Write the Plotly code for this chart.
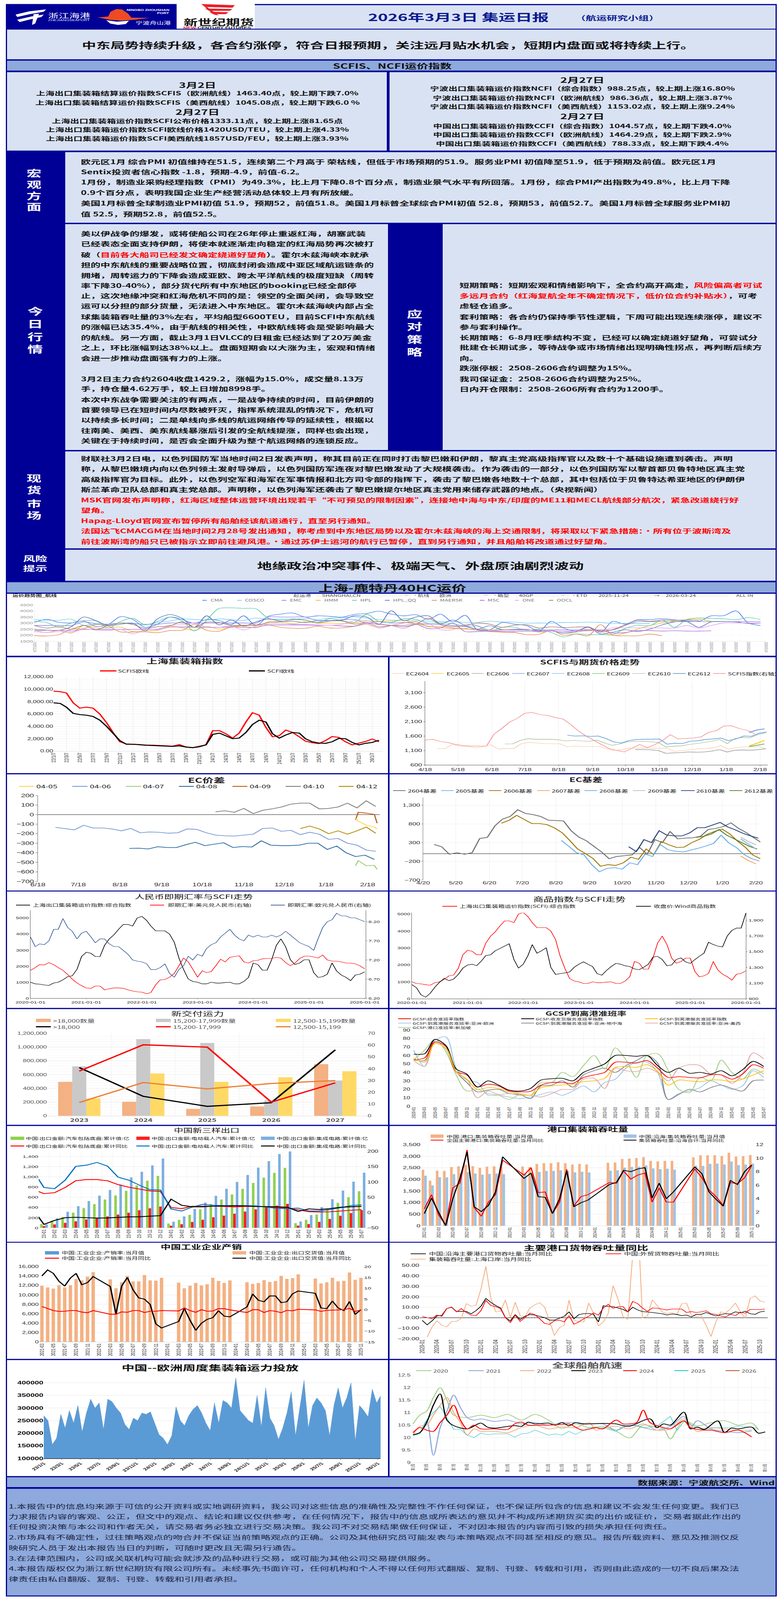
import pandas as pd
import plotly.graph_objects as go

W, H = 2004, 6802
CJK = "Noto Sans CJK SC"
LAT = "Liberation Sans"
NAVY = "#000096"
PALE = "#d9e2f3"
BAND = "#8ea9db"
RED = "#ff0000"

# ---------- freight chart (2-day sampled) ----------
FR_TICKS = ["20251124","20251126","20251128","20251130","20251202","20251204","20251206","20251208","20251210","20251212","20251214","20251216","20251218","20251220","20251222","20251224","20251226","20251228","20251230","20260101","20260103","20260105","20260107","20260109","20260111","20260113","20260115","20260117","20260119","20260121","20260123","20260125","20260127","20260129","20260131","20260202","20260204","20260206","20260208","20260210","20260212","20260214","20260216","20260218","20260220","20260222","20260224","20260226","20260228","20260302","20260304","20260306","20260308","20260310","20260312","20260314","20260316","20260318","20260320","20260324"]
FR_CMA = [3050,3310,3060,3010,3170,2720,2880,3530,3300,2650,2900,3500,3300,2980,3300,3210,2880,3600,2790,3560,3740,3830,3500,3600,3560,3490,3720,3790,3985,3740,3600,3690,3300,3740,3100,3640,2450,2450,3040,2910,2790,2340,3140,2590,2340,2690,2240,3140,2910,3270,3280,3370,3270,3170,3140,3600,3610,4010,3010,2800]
FR_COSCO = [3290,3230,3240,3320,2820,2930,2910,3010,2990,2850,3045,3170,3340,3300,3240,3350,3280,3220,3420,3320,3340,3320,3370,3300,3400,3430,3520,3400,3300,3240,3220,3190,3160,3140,3130,3060,3060,3160,3090,3090,2990,3010,2990,3050,3050,3080,3050,2980,2970,2970,2970,None,None,None,None,None,None,None,None,None]
FR_EMC = [2800,2800,2800,2800,3100,2950,2900,3000,2950,2900,2900,3010,3010,3010,3010,3010,3010,3010,3010,3500,3500,3500,3500,3200,3200,3280,3300,3000,3130,3000,3050,2950,2900,2900,2800,2700,2480,2430,2430,2430,2430,2430,2430,2430,2430,2430,2430,2430,2800,3120,3120,3120,3120,3120,3120,3120,3120,3120,3120,3120]
FR_HMM = [2400,2230,2400,2170,2800,2580,2600,2670,2300,2350,2400,2750,2600,2400,2720,2500,2650,2750,2620,3100,3100,2950,3100,3000,3000,2950,3000,3170,3150,3150,3220,2950,2750,2600,2550,2500,2500,2450,2450,2500,2500,2250,2350,2250,2250,2420,2300,1980,2170,2500,2800,3000,3200,3270,3310,3150,None,None,None,None]
FR_HPL = [3150,3040,2660,3000,3200,3180,2600,3130,3400,2860,3130,3500,3170,2350,3250,4200,4260,4220,4180,3400,3250,3350,3250,3050,3350,3200,3050,3720,3130,3050,3350,3300,3000,3020,2950,2750,2750,2300,2650,2650,2400,2500,2220,1850,2100,2050,2050,2050,2550,2820,2780,3260,2650,3300,3420,3380,3360,3280,3450,3300]
FR_HPLQQ = [2480,2420,2400,2700,3500,3200,2800,2900,3000,2350,3350,3700,3400,2650,3600,2850,3250,2750,3100,3350,3150,3150,3050,3200,3200,3250,3600,3500,2900,4020,3200,3500,3600,2950,3250,2800,2500,2780,2450,2450,2450,2350,2350,2150,2280,2650,2100,2250,2450,2300,2500,2850,3100,3120,2650,3100,3120,3100,2960,3000]
FR_MAERSK = [1970,1930,2050,2480,2550,2880,2750,2270,2260,2270,2200,2380,2400,2900,2400,2330,2700,2800,2900,2850,2650,2570,2570,2730,2590,2600,2730,2900,2600,2800,3000,3100,2700,2700,2600,2550,2400,2300,2250,2220,2040,2070,2400,2000,2100,1950,2870,2000,1950,1950,2090,1950,None,None,None,None,None,None,None,None]
FR_MSC = [2380,2400,2400,2350,2470,2470,2470,2470,2490,2480,2470,2660,2680,2660,2650,2650,2680,2640,2650,2840,2840,2850,2840,2800,2830,2760,2750,3000,2700,2800,2800,2900,2550,2600,3000,2300,2300,2350,2300,2300,2320,2300,2350,2280,2350,2370,2400,2180,2220,2380,2380,2340,2370,2340,2340,2360,None,None,None,None]
FR_ONE = [2290,2230,2290,2230,2500,2420,2380,2480,2100,2450,2500,2820,2870,3000,2650,2650,2750,2430,2760,2950,2950,2900,2900,2850,2820,2900,3200,3200,2950,2800,2550,2950,2950,2450,2450,2900,2800,2400,2400,2500,2480,2300,2380,2250,2340,2500,2300,2600,2600,2600,2600,2600,2590,2800,2580,2800,3010,3010,3010,3010]
FR_OOCL = [2800,2590,2700,2500,2800,2460,2800,3000,2880,2550,2700,2770,3100,2650,3080,3050,2800,2830,2800,3050,3100,3280,3240,3010,3170,3170,2910,3040,2880,2820,2690,2900,3400,2860,2720,2790,2990,2910,2650,2820,2870,2590,2690,2630,2670,2670,2320,2460,2850,3230,3140,3250,3230,3250,3200,None,None,None,None,None]

# ---------- Shanghai container index ----------
A_SCFIS = [9700,9600,9400,7800,6950,7100,6950,6000,4600,3000,1500,1150,1100,1000,950,950,900,850,800,1050,650,550,800,1000,3300,3300,2800,2100,2900,4700,6200,5800,3800,2300,2500,3400,3000,2300,1600,1350,1200,1700,2350,2200,1500,1000,1300,1550,1950,1500]
A_SCFI = [7800,7700,7100,6100,5900,5800,5600,5000,4000,2900,1700,1100,1100,1050,950,900,850,800,750,850,650,550,700,1000,2700,2900,2450,2000,2100,3000,4300,5000,4700,2800,2100,2600,3000,2900,2000,1500,1300,1250,1500,2050,2000,1400,1000,1250,1400,1750]

# ---------- SCFIS & futures (weekly) ----------
B_SCFIS = [1460,1490,1410,1375,1310,1270,1254,1254,1254,1670,1860,2080,2210,2390,2415,2340,2315,2240,2190,2000,1780,1600,1460,1310,1170,1105,1050,1180,1310,1200,1310,1450,1650,1500,1520,1530,1570,1730,1790,1950,1955,1860,1800,1680]
B_2604 = [1170,1165,1310,1250,1240,1190,1225,1300,1150,1170,1170,1340,1380,1360,1340,1335,1335,1230,1260,1240,1240,1240,1170,1100,1130,1180,1180,1190,1180,1180,1170,1070,1100,1120,1160,1170,1190,1270,1150,1200,1230,1220,1240,1150]
B_2606 = [1325,1330,1450,1510,1490,1490,1490,1470,1430,1450,1430,1420,1460,1360,1280,1330,1400,1410,1420,1400,1380,1220,1250,1260,1310,1340,1380,1420,1480,1340,1520,1550,1540,1650,1710]
B_2608 = [1630,1600,1610,1590,1600,1520,1400,1360,1440,1480,1490,1490,1500,1320,1350,1340,1420,1440,1480,1500,1530,1440,1500,1600,1590,1700,1740]
B_2610 = [1130,1135,1125,1100,1000,1020,1030,1050,1040,1050,1080,1130,1050,1110,1120,1110,1130,1160]
B_2607 = [1725,1810,1850]
B_2605 = [1260,1350,1450]
B_2609 = [1240,1280,1330]

# ---------- EC spreads (weekly) ----------
C_0406 = [-134,-146,-160,-112,-140,-140,-150,-170,-145,-190,-182,-185,-195,-190,-150,-155,-190,-215,-222,-225,-215,-205,-145,-140,-175,-165,-210,-185,-205,-260,-250,-300,-320,-372,-385]
C_0408 = [-354,-352,-360,-337,-345,-345,-315,-290,-325,-310,-295,-345,-335,-340,-275,-320,-325,-325,-320,-300,-300,-365,-330,-400,-440,-425,-470]
C_0410 = [30,40,25,65,10,45,60,80,110,120,120,60,65,80,120,70,145,85]
C_0412 = [-146,-120,-150,-200,-170,-205,-170,-130,-195]
C_SHORT_DATES = ["2026-02-09","2026-02-11","2026-02-17","2026-02-23","2026-02-25"]
C_0409 = [-55,25,15,2,-90]
C_0405 = [-40,-70,-110,-130,-150]
C_0407 = [-536,-482,-536,-532,-574]

# ---------- EC basis (weekly) ----------
D_2604 = [250,190,-10,30,-10,30,410,440,750,930,1000,1180,1080,1050,1000,900,890,880,620,450,350,200,50,-130,-70,-50,-30,170,-10,380,300,600,400,420,430,470,650,680,730,830,680,570,430,300,260]
D_2606 = [820,900,1030,920,810,810,780,690,560,350,130,10,-120,-330,-290,-310,-240,-90,-150,130,-20,330,240,170,180,300,390,520,600,660,530,340,180,-30,-130]
D_2608 = [360,200,30,-30,-290,-480,-390,-370,-410,-240,-290,-10,-70,250,110,70,50,100,150,210,280,500,290,170,-20,-130,-190]
D_2610 = [190,60,380,300,620,500,480,480,560,700,700,770,840,720,640,550,480,420]
D_2612 = [440,470,530,650,500,400,300,200,130]
D_2605 = [400,260,130]
D_2607 = [-60,-180,-270]
D_2609 = [445,330,240]

# ---------- FX & commodity (monthly) ----------
SCFI_COMP = [1000,900,880,830,800,950,1000,1150,1350,1400,1800,2600,2870,2800,2600,2600,3300,3700,3950,4300,4600,4600,4500,5000,5100,4850,4500,4200,4200,4200,4000,3500,2500,1800,1200,1050,1000,900,900,1000,950,950,980,1000,900,900,1050,1300,2200,2100,1750,1750,2400,3300,3700,3200,2400,2100,2200,2400,2400,1600,1300,1350,1500,2200,1700,1450,1300,1100,1450,1500,1650]
USD_CNY = [6.93,7.0,7.08,7.07,7.13,7.08,7.0,6.93,6.82,6.7,6.6,6.53,6.47,6.46,6.52,6.52,6.42,6.45,6.47,6.47,6.46,6.42,6.39,6.37,6.36,6.32,6.35,6.55,6.68,6.69,6.75,6.85,7.05,7.25,7.15,6.96,6.75,6.92,6.87,6.9,7.05,7.22,7.15,7.27,7.29,7.31,7.15,7.12,7.18,7.19,7.23,7.24,7.24,7.27,7.25,7.13,7.05,7.12,7.24,7.30,7.3,7.28,7.25,7.33,7.2,7.17,7.17,7.15,7.12,7.12,7.1,7.05,6.97]
EUR_CNY = [7.80,7.55,7.62,7.60,7.70,8.0,8.0,8.28,8.05,7.95,7.75,7.9,7.95,7.8,7.65,7.75,7.75,7.62,7.55,7.55,7.45,7.35,7.2,7.17,7.15,7.1,6.95,6.95,7.0,7.1,6.85,6.75,6.95,7.05,7.3,7.2,7.35,7.3,7.5,7.6,7.65,7.8,7.9,8.0,7.85,7.75,7.7,7.85,7.8,7.85,7.8,7.8,7.85,7.8,7.85,7.95,7.85,7.75,7.65,7.6,7.55,7.45,7.75,8.05,8.2,8.25,8.42,8.35,8.35,8.3,8.3,8.25,8.2]
WIND_CMD = [1080,1040,950,920,970,1050,1110,1160,1130,1150,1210,1290,1330,1340,1320,1380,1450,1460,1510,1540,1570,1600,1400,1290,1340,1450,1590,1480,1510,1550,1300,1210,1220,1230,1240,1300,1340,1370,1340,1310,1220,1200,1260,1310,1350,1340,1320,1310,1280,1270,1300,1340,1430,1440,1400,1320,1330,1400,1420,1370,1350,1400,1440,1480,1620,1590,1570,1560,1700,1770,1800,1800,1990]

# ---------- new deliveries ----------
G_YEARS = ["2023","2024","2025","2026","2027"]
G_Q18 = [495000,205000,102000,137000,752000]
G_Q15 = [720000,1115000,1060000,225000,513000]
G_Q12 = [255000,617000,495000,562000,650000]
G_L18 = [41,16.6,8.1,11.2,56]
G_L15 = [38,60.3,58.3,11.7,28]
G_L12 = [11.4,28.3,22.9,27.5,30]

# ---------- GCSP on-time (bimonthly) ----------
H_TICKS = ["2020-01","2020-03","2020-05","2020-07","2020-09","2020-11","2021-01","2021-03","2021-05","2021-07","2021-09","2021-11","2022-01","2022-03","2022-05","2022-07","2022-09","2022-11","2023-01","2023-03","2023-05","2023-07","2023-09","2023-11","2024-01","2024-03","2024-05","2024-07","2024-09","2024-11","2025-01","2025-03","2025-05","2025-07"]
H_ALL = [55,57,76,71,41,37,23,26,24,18,17,17.6,25,28,28,27,34,37,40,52,52,51,54,45,34,35,34,33.6,37,37,32,38,49,45]
H_GATE = [61.6,62,79,72,44,38,22.6,30,25,19,18,21,31,32.5,33,30,40,45,50,60,60,59,60,48,40,45,39,40,38,42,36,43,53,47]
H_SVC = [57,52,74,69,41,32,20,22,21,17,15,13,22,24,25,26,29,30,33,46,47,46,49,41,25,31,30,29,31,31,29,32,37,42]
H_EU = [66,47,78,82,45,31,28,13,13,11,9,11,14,17,13,18,24,17,28,32,45,52,52,40,8,15,18,22,30,25,20,24,42,34]
H_MED = [55,54,79,72,41,28,17,19,20,15,14,9,24,25,30,22.6,37,42,45,40,48,54,60,51,8,14,20,17,22,25,21,18,30,31]
H_USW = [54,47,75,68,40,32,10,18,14,15,13,13,11,15,20,20,32,33,21,45,42,41,45,40,30,45,49,48,38,37,27,38,63,56]
H_SG = [55,66,79,65,37,18,20,15,13,8,14,13,28,28,40,35,48,60,44,69,55,34,60,62,42,20,16,34,30,54.5,40,32,44,38]

# ---------- new three exports ----------
I_TICKS = ["23-01","23-02","23-03","23-04","23-05","23-06","23-07","23-08","23-09","23-10","23-11","23-12","24-01","24-02","24-03","24-04","24-05","24-06","24-07","24-08","24-09","24-10","24-11","24-12","25-01","25-02","25-03","25-04","25-05","25-06","25-07"]
I_AUTO = [75,140,215,298,388,465,555,635,725,830,925,1018,85,158,255,362,465,555,655,765,880,983,1078,1175,92,160,260,370,490,600,718]
I_EV = [35,68,98,128,165,195,225,260,298,345,383,418,42,72,115,160,208,240,278,320,362,400,435,470,45,75,118,175,238,290,347]
I_IC = [70,188,315,425,525,632,743,850,987,1098,1222,1358,122,225,370,497,628,765,900,1035,1180,1307,1447,1500,125,252,408,562,730,905,1082]
I_AUTO_YOY = [75,62,65,82,104,108,108,104,91.5,83,77,71,69,16.6,13,20.5,21,21,20,18.7,20,20,19,16.6,15,9,3,2,2.5,5,7.7,9.5]
I_EV_YOY = [135,82,78,106,151,155,164,152,116,106,90,75,73.6,12,5,18,27,24,23,23,22.5,22,18,13.6,13,14.6,5.6,5,10,16,23,25.6]
I_IC_YOY = [8,-38.5,-25.6,-16.7,-15.4,-17,-18,-17.4,-16,-14,-13.6,-11.5,-10,44,24,19,19,21,22,22.5,22,20,19.7,19,17.4,3.8,12,10,13,17.4,19,20.5]

# ---------- port throughput ----------
J_TICKS = ["2022-01","2022-03","2022-05","2022-07","2022-09","2022-11","2023-01","2023-03","2023-05","2023-07","2023-09","2023-11","2024-01","2024-03","2024-05","2024-07","2024-09","2024-11","2025-01","2025-03","2025-05","2025-07","2025-09","2025-11"]
J_CN = [2418,1943,2376,2366,2536,2562,2634,2572,2495,2546,2562,2530,None,None,2557,2530,2665,2700,2700,2742,2700,2640,2670,2650,None,None,2716,2727,2880,2900,2920,2960,2800,2780,2800,2800,None,None,2950,3040,3040,3040,3010,3150,2985,3000,3050]
J_CO = [2160,1737,2098,2087,2227,2278,2314,2253,2200,2237,2253,2227,None,None,2263,2200,2325,2366,2366,2392,2366,2304,2330,2300,None,None,2380,2390,2510,2540,2550,2600,2470,2440,2460,2420,None,None,2590,2580,2670,2680,2640,2770,2620,2640,2680]
J_CN_YOY = [2.5,4.6,1.6,0.1,5.6,6.3,11.2,2.7,1.4,3.5,4.6,9.7,None,None,7.5,8.6,4.9,5,1.8,3.5,8.35,2.9,4.3,4.6,None,None,6.4,6.3,8.1,6.9,7.5,7.8,3.5,5.6,3.5,3.5,None,None,8.4,7.1,5.3,4.3,3,6.4,6.2,7.1,8.9]
J_CO_YOY = [1.8,4.1,2,0,4,7,10.9,2.8,2.1,3,5,10.2,None,None,7,7.8,4.3,4.2,1.8,4,8.1,2.8,3.4,3.8,None,None,6.1,6.4,8.2,8,8.4,8.6,4.1,6.3,4,5,None,None,8.7,7.7,5,3.9,2.9,6.7,6.1,8,9]

# ---------- industrial output ----------
K_TICKS = ["2021-03","2021-05","2021-07","2021-09","2021-11","2022-01","2022-03","2022-05","2022-07","2022-09","2022-11","2023-01","2023-03","2023-05","2023-07","2023-09","2023-11","2024-01","2024-03","2024-05","2024-07","2024-09","2024-11","2025-01","2025-03","2025-05","2025-07","2025-09","2025-11"]
K_EXPORT = [11940,11590,11340,12075,11590,12075,13375,13100,13890,14835,None,None,13290,11400,12670,14050,12890,12890,14240,13100,13020,13645,None,None,12615,11400,11940,12560,12020,12290,13645,12970,12560,13100,None,None,12700,12345,12535,13160,12750,12970,14050,13430,13565,14375,None,None,13480,12450,12670,13645,12890,13000,14780,13210,13645]
K_SALES_RATE = [98,98,98,98,98,98,98,98,98,98,None,None,98,98,98,98,98,98,98,98,98,98,None,None,98,98,98,98,98,98,98,98,98,98,None,None,98,98,98,98,98,98,98,98,98,98,None,None,98,98,98,98,98,98,98,98,98]
K_EXPORT_YOY = [15.7,18.5,16.9,13.2,11,14.7,16.9,11.6,12.6,15.4,None,None,10.8,-2,11,15,9.2,5.5,4.9,2.5,-6.6,-8.5,None,None,-5.5,0.6,-4.9,-9.6,-6.3,-4.5,-3.7,-0.5,-3,-3.3,None,None,1.3,7.3,4.4,3.7,6.4,6.4,3.3,3.7,7.4,8.7,None,None,7.6,0.8,0.5,4,0.8,-0.4,3.8,-2.2,0]
K_RATE_YOY = [1.5,0.5,-0.4,-0.8,-0.7,-0.4,-0.4,-1.1,-1.4,-0.4,None,None,-2.1,-2.1,-1,-1.2,-0.4,-0.4,-1.3,-0.7,-0.7,-0.4,None,None,-0.6,0.8,-0.4,-1.2,0,-0.7,-0.6,0.5,0.5,-0.1,None,None,-1.3,0,0,-1.3,-0.4,-0.7,-1.4,-0.3,-0.5,0.2,None,None,-0.1,-0.8,-0.3,-0.2,-0.1,0,0.6,-0.8,-0.1]

# ---------- port cargo yoy ----------
L_TICKS = ["2020-01","2020-04","2020-07","2020-10","2021-01","2021-04","2021-07","2021-10","2022-01","2022-04","2022-07","2022-10","2023-01","2023-04","2023-07","2023-10","2024-01","2024-04","2024-07","2024-10","2025-01","2025-04","2025-07","2025-10"]
L_COAST = [-2.5,-6.8,-3,1.7,2.2,8.7,10,6,6,6,3.7,6.8,11,18.4,14.7,11.7,9.3,0.1,-3,3,-1.7,1.3,3,2.5,1.3,0.1,-2.3,-2.3,-0.5,1.3,5.6,-1,3,3.8,4.1,3.2,-4,11.5,10.7,10.5,9.3,8,5.6,10,7.5,5.9,5.4,5,4.4,3.8,2.6,3.5,3.2,2,2.6,0.7,3.2,3.2,5,3.2,1.7,3.2,3.8,3.5,5.6,4.6,6.2,3.8,3.2,5.5,6.2]
L_FOREIGN = [1.3,0,-0.7,2.5,1.3,8.7,10.2,5.6,8.7,5,2.5,2,6.8,16.6,11.7,10.5,8.7,0,-4.7,2.5,-3.5,0.1,4.4,3,-1,-5.4,-6.3,-3,-2.3,-4,2,-6.3,-4,-1.1,1.3,4.6,2.5,9.3,12.7,9,10.5,10.7,5.6,15.6,13.5,9.3,6,9.3,9,8.3,7.4,8.3,8.3,8.3,5,5.8,5,5.6,6.6,3.8,3.2,1.7,0.7,3.4,2,5.3,4.3,8,7.8,7.8,8.3]
L_SHANGHAI = [None,-18.5,-9,-3,-7.2,-8.8,-3.5,-3.5,-0.5,13.5,11,11.7,27.5,49,19,5.6,6.2,17,0,14.7,2,1,9.3,12.3,14.4,10,-3,-17,-9.6,-7.2,16.8,-2.3,-4,-4.1,14,4.4,-7.8,-4,4,30.6,17.8,1.3,-1.7,60,100,0,1.5,17,11.7,5.6,3.8,5,2.5,13.3,14,2.5,1,2,-7.2,-18,-4,5.6,4.4,8.7,14,5.6,-0.5,18.4,20.8,16,14.8]

# ---------- China-Europe capacity (14-day sampled) ----------
M_CAP = [270000,250000,155000,180000,275000,220000,290000,240000,310000,205000,280000,335000,300000,320000,215000,335000,325000,300000,280000,235000,215000,260000,250000,280000,275000,285000,240000,195000,180000,155000,190000,305000,250000,230000,270000,295000,310000,280000,240000,210000,320000,240000,330000,320000,300000,420000,290000,270000,250000,240000,350000,225000,380000,260000,230000,175000,220000,280000,365000,190000,300000,410000,220000,310000,340000,320000,290000,190000,310000,380000,300000,340000,400000,170000,310000,290000,265000,375000,320000,350000]

# ---------- fleet speed by week ----------
N_TICKS = ["第%d周" % w for w in range(1, 54, 2)]
N20_W = [1,2,3,4,5,6,7,9,11,13,15,17,19,21,23,25,27,29,31,33,35,37,38,39,41,43,45,47,49,51,52]
N20_V = [10.55,10.9,11.06,11.6,12.0,11.5,10.9,10.8,10.9,10.8,10.93,10.7,10.93,10.7,10.37,10.55,10.4,10.45,10.25,9.99,10.5,10.4,10.35,9.95,10.68,10.47,10.6,10.68,10.5,10.58,10.3]
N21_W = [1,2,3,4,5,6,7,8,9,10,11,13,15,17,19,21,23,25,27,29,31,33,35,37,39,41,42,43,45,47,49,51]
N21_V = [10.09,10.2,10.65,9.29,10.4,11.05,11.7,11.2,10.8,10.7,10.75,10.65,10.7,10.55,10.6,10.5,10.6,10.6,10.55,10.55,10.3,10.5,10.4,10.3,10.45,10.85,10.4,10.68,10.35,10.25,10.2,10.27]
N22_W = [1,2,3,4,5,6,7,8,9,10,11,13,15,17,19,21,23,25,27,28,29,31,33,35,37,39,41,43,45,47,49,51]
N22_V = [10.1,10.45,10.5,10.9,11.3,11.6,11,10.6,10.1,10.35,10.25,10.25,10.2,10.4,10.5,10.35,10.43,10.4,10.6,10.3,10.38,10.45,10.35,10.55,10.3,10.35,10.75,10.25,10.4,10.35,10.3,10.3]
N23_W = [1,2,3,4,5,6,7,9,11,12,13,15,16,17,18,19,21,22,23,24,25,26,29,31,32,33,36,37,38,39,41,42,43,44,46,47,48,49,51,52,53]
N23_V = [10.12,10.2,10.6,11.3,11.75,10.7,10.48,10.35,10.58,10.42,10.38,10.45,10.48,10.45,10.62,10.55,10.58,10.5,10.6,10.48,10.6,10.55,10.57,10.55,10.48,10.46,10.75,10.4,10.55,10.5,11.02,10.35,10.42,10.33,10.67,10.2,10.38,10.35,10.42,10.18,10.23]
N24_W = [1,2,3,4,5,6,7,8,9,10,11,13,15,16,17,18,20,21,23,24,26,28,29,31,32,33,34,35,36,38,39,41,42,44,45,47,49,51]
N24_V = [10.2,10.4,10.3,10.25,10.6,10.9,11.3,10.7,10.35,10.5,10.35,10.35,10.33,10.55,10.62,10.5,10.5,10.5,10.53,10.55,10.3,10.4,10.35,10.7,10.55,10.55,10.6,11.1,10.6,10.4,10.35,10.67,10.4,10.3,10.3,10.2,10.3,10.03]
N25_W = [1,2,3,4,5,6,7,8,9,10,11,12,13,15,16,17,18,19,21,22,23,24,25,27,29,31,32,34,35,37,39,40,41,43,44,46,48,49,51,52]
N25_V = [10.08,10.15,10.7,11,11.25,10.8,10.33,10.33,10.1,10,10.18,10.12,10.15,10.15,10.02,10.15,10.18,10.3,10.1,10.15,10.1,10.25,10.13,10.4,10.4,10.25,10.45,10.5,10.4,10.45,10.85,10.28,10.65,10.4,10.35,10.4,10.4,10.47,10.42,10.37]

# ---------- report text ----------
HEADLINE = "中东局势持续升级，各合约涨停，符合日报预期，关注远月贴水机会，短期内盘面或将持续上行。"
IDX_LEFT = ["上海出口集装箱结算运价指数SCFIS（欧洲航线）1463.40点，较上期下跌7.0%","上海出口集装箱结算运价指数SCFIS（美西航线）1045.08点，较上期下跌6.0 %","上海出口集装箱运价指数SCFI公布价格1333.11点，较上期上涨81.65点","上海出口集装箱运价指数SCFI欧线价格1420USD/TEU，较上期上涨4.33%","上海出口集装箱运价指数SCFI美西航线1857USD/FEU，较上期上涨3.93%"]
IDX_RIGHT = ["宁波出口集装箱运价指数NCFI（综合指数）988.25点，较上期上涨16.80%","宁波出口集装箱运价指数NCFI（欧洲航线）986.36点，较上期上涨3.87%","宁波出口集装箱运价指数NCFI（美西航线）1153.02点，较上期上涨9.24%","中国出口集装箱运价指数CCFI（综合指数）1044.57点，较上期下跌4.0%","中国出口集装箱运价指数CCFI（欧洲航线）1464.29点，较上期下跌2.9%","中国出口集装箱运价指数CCFI（美西航线）788.33点，较上期下跌4.4%"]
MACRO = ["欧元区1月 综合PMI 初值维持在51.5，连续第二个月高于 荣枯线，但低于市场预期的51.9。服务业PMI 初值降至51.9，低于预期及前值。欧元区1月","Sentix投资者信心指数 -1.8，预期-4.9，前值-6.2。","1月份，制造业采购经理指数（PMI）为49.3%，比上月下降0.8个百分点，制造业景气水平有所回落。1月份，综合PMI产出指数为49.8%，比上月下降","0.9个百分点，表明我国企业生产经营活动总体较上月有所放缓。","美国1月标普全球制造业PMI初值 51.9，预期52，前值51.8。美国1月标普全球综合PMI初值 52.8，预期53，前值52.7。美国1月标普全球服务业PMI初","值 52.5，预期52.8，前值52.5。"]
R0 = '<span style="color:#ff0000">'
R1 = '</span>'
TODAY = ["美以伊战争的爆发，或将使船公司在26年停止重返红海，胡塞武装","已经表态全面支持伊朗，将使本就逐渐走向稳定的红海局势再次被打","破（"+R0+"目前各大船司已经发文确定绕道好望角"+R1+"）。霍尔木兹海峡本就承","担的中东航线的重要战略位置，彻底封闭会造成中亚区域航运链条的","拥堵，周转运力的下降会造成亚欧、跨太平洋航线的极度短缺（周转","率下降30-40%），部分货代所有中东地区的booking已经全部停","止，这次地缘冲突和红海危机不同的是：领空的全面关闭，会导致空","运可以分担的部分货量，无法进入中东地区。霍尔木兹海峡内部占全","球集装箱吞吐量的3%左右，平均船型6600TEU，目前SCFI中东航线","的涨幅已达35.4%，由于航线的相关性，中欧航线将会是受影响最大","的航线。另一方面，截止3月1日VLCC的日租金已经达到了20万美金","之上，环比涨幅到达38%以上。盘面短期会以大涨为主，宏观和情绪","会进一步推动盘面强有力的上涨。","","3月2日主力合约2604收盘1429.2，涨幅为15.0%，成交量8.13万","手，持仓量4.62万手，较上日增加8998手。","本次中东战争需要关注的有两点，一是战争持续的时间，目前伊朗的","首要领导已在短时间内尽数被歼灭，指挥系统混乱的情况下，危机可","以持续多长时间；二是单线向多线的航运网络传导的延续性，根据以","往南美、美西、美东航线暴涨后引发的全航线提涨，同样也会出现，","关键在于持续时间，是否会全面升级为整个航运网络的连锁反应。"]
STRATEGY = ["短期策略：短期宏观和情绪影响下，全合约高开高走，"+R0+"风险偏高者可试"+R1,R0+"多远月合约（红海复航全年不确定情况下，低价位合约补贴水）"+R1+"，可考","虑轻仓追多。","套利策略：各合约仍保持季节性逻辑，下周可能出现连续涨停，建议不","参与套利操作。","长期策略：6-8月旺季结构不变，已经可以确定绕道好望角，可尝试分","批建仓长期试多，等待战争或市场情绪出现明确性拐点，再判断后续方","向。","跌涨停板：2508-2606合约调整为15%。","我司保证金：2508-2606合约调整为25%。","日内开仓限制：2508-2606所有合约为1200手。"]
SPOT = ["财联社3月2日电，以色列国防军当地时间2日发表声明，称其目前正在同时打击黎巴嫩和伊朗，黎真主党高级指挥官以及数十个基础设施遭到袭击。声明","称，从黎巴嫩境内向以色列领土发射导弹后，以色列国防军连夜对黎巴嫩发动了大规模袭击。作为袭击的一部分，以色列国防军以黎首都贝鲁特地区真主党","高级指挥官为目标。此外，以色列空军和海军在军事情报和北方司令部的指挥下，袭击了黎巴嫩各地数十个总部，其中包括位于贝鲁特达希亚地区的伊朗伊","斯兰革命卫队总部和真主党总部。声明称，以色列海军还袭击了黎巴嫩提尔地区真主党用来储存武器的地点。（央视新闻）",R0+"MSK官网发布声明称，红海区域整体运营环境出现若干“不可预见的限制因素”，连接地中海与中东/印度的ME11和MECL航线部分航次，紧急改道绕行好"+R1,R0+"望角。"+R1,R0+"Hapag-Lloyd官网宣布暂停所有船舶经该航道通行，直至另行通知。"+R1,R0+"法国达飞CMACGM在当地时间2月28号发出通知，称考虑到中东地区局势以及霍尔木兹海峡的海上交通限制，将采取以下紧急措施：・所有位于波斯湾及"+R1,R0+"前往波斯湾的船只已被指示立即前往避风港。・通过苏伊士运河的航行已暂停，直到另行通知，并且船舶将改道通过好望角。"+R1]
DISCLAIMER = ["1.本报告中的信息均来源于可信的公开资料或实地调研资料，我公司对这些信息的准确性及完整性不作任何保证，也不保证所包含的信息和建议不会发生任何变更。我们已","力求报告内容的客观、公正，但文中的观点、结论和建议仅供参考，在任何情况下，报告中的信息或所表达的意见并不构成所述期货买卖的出价或征价，交易者据此作出的","任何投资决策与本公司和作者无关，请交易者务必独立进行交易决策。我公司不对交易结果做任何保证，不对因本报告的内容而引致的损失承担任何责任。","2.市场具有不确定性，过往策略观点的吻合并不保证当前策略观点的正确。公司及其他研究员可能发表与本策略观点不同甚至相反的意见。报告所载资料、意见及推测仅反","映研究人员于发出本报告当日的判断，可随时更改且无需另行通告。","3.在法律范围内，公司或关联机构可能会就涉及的品种进行交易，或可能为其他公司交易提供服务。","4.本报告版权仅为浙江新世纪期货有限公司所有。未经事先书面许可，任何机构和个人不得以任何形式翻版、复制、刊登、转载和引用，否则由此造成的一切不良后果及法","律责任由私自翻版、复制、刊登、转载和引用者承担。"]

# ---------- helpers ----------
fig = go.Figure()
shapes, notes, axes = [], [], {}
nx = ny = 0

def px(x): return x / W
def py(y): return 1 - y / H

def rect(x0, y0, x1, y1, color, layer="below"):
    shapes.append(dict(type="rect", xref="paper", yref="paper", x0=px(x0), x1=px(x1), y0=py(y0), y1=py(y1),
                       fillcolor=color, line=dict(width=0), layer=layer))

def seg(x0, y0, x1, y1, color, w=3, dash="solid"):
    shapes.append(dict(type="line", xref="paper", yref="paper", x0=px(x0), x1=px(x1), y0=py(y0), y1=py(y1),
                       line=dict(color=color, width=w, dash=dash), layer="above"))

def poly(pts, color):
    path = "M " + " L ".join(f"{px(a):.5f} {py(b):.5f}" for a, b in pts) + " Z"
    shapes.append(dict(type="path", xref="paper", yref="paper", path=path, fillcolor=color, line=dict(width=0), layer="above"))

def txt(x, y, s, size, color="#000000", anchor="left", bold=True, font=CJK, angle=0):
    notes.append(dict(x=px(x), y=py(y), xref="paper", yref="paper", text=(f"<b>{s}</b>" if bold else s), showarrow=False,
                      xanchor=anchor, yanchor="middle", align=anchor, textangle=angle,
                      font=dict(family=font, size=size, color=color)))

def leg(x0, x1, y, tx, s, color, size, w=3, box=False, tcolor="#222222", bold=False):
    if box:
        rect(x0, y - 7, x1, y + 7, color, "above")
    else:
        seg(x0, y, x1, y, color, w)
    txt(tx, y, s, size, tcolor, bold=bold)

def new_axes(x0, x1, y0, y1, xa, ya, y2=None):
    global nx, ny
    nx += 1; ny += 1
    xn, yn = ("x" if nx == 1 else f"x{nx}"), ("y" if ny == 1 else f"y{ny}")
    base_x = dict(domain=[px(x0), px(x1)], anchor=yn, showgrid=False, zeroline=False, automargin=False, ticks="")
    base_x.update(xa)
    axes["xaxis" if nx == 1 else f"xaxis{nx}"] = base_x
    base_y = dict(domain=[py(y1), py(y0)], anchor=xn, showgrid=False, zeroline=False, automargin=False, ticks="")
    base_y.update(ya)
    axes["yaxis" if ny == 1 else f"yaxis{ny}"] = base_y
    y2n = None
    if y2 is not None:
        ny += 1
        y2n = f"y{ny}"
        b = dict(overlaying=yn, side="right", anchor=xn, showgrid=False, zeroline=False, automargin=False, ticks="")
        b.update(y2)
        axes[f"yaxis{ny}"] = b
    return xn, yn, y2n

def line(xa, ya, x, y, name, color, w=2.5, spline=False, gaps=False):
    fig.add_trace(go.Scatter(x=list(x), y=y, name=name, mode="lines", xaxis=xa, yaxis=ya, showlegend=False, connectgaps=gaps,
                             line=dict(color=color, width=w, shape="spline" if spline else "linear", smoothing=0.9)))

def bars(xa, ya, x, y, name, color, offset, width):
    fig.add_trace(go.Bar(x=list(x), y=y, name=name, xaxis=xa, yaxis=ya, showlegend=False, marker=dict(color=color, line=dict(width=0)),
                         offset=offset, width=width))

def tf(size, color="#333333", bold=False, family=LAT):
    return dict(family=family, size=size, color=color, weight="bold" if bold else "normal")

def weekly(start, vals):
    return pd.date_range(start, periods=len(vals), freq="7D")

def months(start, vals):
    return pd.date_range(start, periods=len(vals), freq=pd.DateOffset(months=1))

# ---------- page skeleton ----------
rect(15, 17, 1988, 6787, NAVY)
rect(452, 0, 652, 122, "#ffffff")
rect(652, 22, 1985, 122, PALE)
rect(18, 126, 1985, 252, PALE)
rect(18, 258, 1985, 300, BAND)
rect(18, 307, 990, 640, PALE)
rect(997, 307, 1985, 640, PALE)
rect(167, 647, 1985, 947, PALE)
rect(167, 953, 993, 1913, PALE)
rect(1133, 953, 1985, 1913, PALE)
rect(167, 1919, 1985, 2331, PALE)
rect(167, 2337, 1985, 2469, PALE)
rect(18, 2475, 1985, 2519, BAND)
rect(18, 2524, 1985, 2788, "#ffffff")
for top, bot in [(2794, 3287), (3292, 3786), (3790, 4285), (4290, 4782), (4787, 5279), (5283, 5777), (5782, 6275)]:
    rect(18, top, 993, bot, "#ffffff")
    rect(997, top, 1985, bot, "#ffffff")
rect(18, 6280, 1985, 6322, BAND)
rect(18, 6329, 1985, 6783, BAND)

# logos
for pts in [[(515,17),(601,22),(595,33),(530,30)],[(525,36),(595,38),(588,46),(535,46)],[(536,50),(585,52),(578,60),(545,60)],[(515,17),(530,30),(560,66),(548,62)]]:
    poly(pts, "#e8212a")
txt(560, 92, "新世纪期货", 36, "#111111", "center")
txt(467, 118, '<span style="color:#e8212a">NEW</span> CENTURY FUTURES', 14, "#222222", "left", font=LAT)
for pts in [[(40,62),(75,48),(118,40),(112,50),(76,60),(44,72)],[(44,84),(80,70),(112,62),(106,72),(78,82),(50,94)],[(86,60),(100,58),(90,100),(82,106)]]:
    poly(pts, "#ffffff")
txt(121, 66, "浙江海港", 27, "#ffffff", bold=False)
txt(121, 85, "ZHEJIANGSEAPORT", 11, "#dfe6ff", bold=False, font=LAT)
poly([(277,70),(283,50),(298,38),(312,40),(328,58),(336,75),(383,76),(345,84),(310,88),(280,84),(250,74)], "#ee4b23")
poly([(272,86),(300,92),(330,88),(322,102),(302,106),(282,100)], "#ffffff")
txt(435, 42, "NINGBO ZHOUSHAN", 11, "#ffffff", "right", font=LAT)
txt(435, 56, "PORT", 11, "#ffffff", "right", font=LAT)
txt(345, 96, "宁波舟山港", 18, "#ffffff", bold=False)

# header texts
txt(940, 70, "2026年3月3日 集运日报", 43, "#0a1a8f")
txt(1470, 75, "（航运研究小组）", 27, "#0a1a8f")
txt(994, 191, HEADLINE, 36.5, "#111111", "center")
txt(1004, 280, "SCFIS、NCFI运价指数", 30, "#111111", "center")

txt(505, 360, "3月2日", 30, "#111111", "center")
for y, s in zip([396, 434.6], IDX_LEFT[:2]):
    txt(505, y, s, 23.5, "#111111", "center")
txt(505, 475, "2月27日", 30, "#111111", "center")
for y, s in zip([513, 550, 588], IDX_LEFT[2:]):
    txt(505, y, s, 23.5, "#111111", "center")
txt(1490, 339, "2月27日", 30, "#111111", "center")
for y, s in zip([376, 414.5, 452], IDX_RIGHT[:3]):
    txt(1490, y, s, 23.5, "#111111", "center")
txt(1490, 494, "2月27日", 30, "#111111", "center")
for y, s in zip([534.5, 572, 610], IDX_RIGHT[3:]):
    txt(1490, y, s, 23.5, "#111111", "center")

for y, s in zip([686, 729, 773, 818, 862, 908.6], MACRO):
    txt(205, y, s, 25, "#111111")
for y, s in zip([992,1036,1081,1125,1169,1213,1256,1300,1345,1389,1434,1477,1521,1565,1609,1652,1697,1741,1784,1829,1873], TODAY):
    if s:
        txt(205, y, s, 25, "#111111")
for y, s in zip([1212,1256,1300,1345,1389,1433,1476,1521,1564,1609,1653], STRATEGY):
    txt(1174, y, s, 25, "#111111")
for y, s in zip([1948,1992,2036.5,2080,2124,2167,2212,2256,2300.6], SPOT):
    txt(205, y, s, 25, "#111111")

for y, c in zip([734, 781, 830, 878], "宏观方面"):
    txt(87, y, c, 38, "#ffffff", "center")
for y, c in zip([1322, 1375, 1429, 1483], "今日行情"):
    txt(90, y, c, 40, "#ffffff", "center")
for y, c in zip([1333, 1387, 1441, 1494], "应对策略"):
    txt(1061, y, c, 40, "#ffffff", "center")
for y, c in zip([2030, 2081, 2139, 2190], "现货市场"):
    txt(87, y, c, 38, "#ffffff", "center")
txt(90, 2373, "风险", 31, "#ffffff", "center")
txt(90, 2415, "提示", 31, "#ffffff", "center")
txt(1076, 2403, "地缘政治冲突事件、极端天气、外盘原油剧烈波动", 38, "#111111", "center")
txt(1004, 2498, "上海-鹿特丹40HC运价", 38, "#111111", "center")
txt(1985, 6302, "数据来源：宁波航交所、Wind", 26, "#111111", "right")
for y, s in zip([6402,6446,6489,6534,6578,6623,6666,6711], DISCLAIMER):
    txt(20, y, s, 25, "#1b2340", bold=False)

# ---------- freight chart ----------
txt(30, 2532, "运价趋势图_航线", 15, "#333333")
for x0, x1 in [(810, 1052), (1111, 1256), (1320, 1458), (1515, 1865)]:
    rect(x0, 2525, x1, 2540, "#f8f8f8", "above")
for x, s in [(749, "起运港"), (822, "SHANGHAI,CN"), (1123, "欧洲"), (1326, "40GP"), (1530, "2025-11-24"), (1702, "2026-03-24"), (1882, "ALL IN")]:
    txt(x, 2532, s, 15, "#555555", bold=False)
for x, s in [(1059, "航线"), (1263, "箱型"), (1465, "ETD")]:
    txt(x + 8, 2532, s, 15, "#555555", bold=False)
    txt(x - 1, 2531, "*", 13, "#ff4d2e", bold=False)
for x in [1040, 1243, 1440]:
    txt(x, 2532, "﹀", 11, "#888888", "center", bold=False)
txt(1680, 2532, "→", 15, "#666666", "center", bold=False)

FR_COL = ["#4f80f0", "#6fc9f5", "#8a80e8", "#f5b530", "#5cc9a7", "#5b76b5", "#e08a55", "#a86cdc", "#e79af5", "#9c7a62"]
FR_NAMES = ["CMA", "COSCO", "EMC", "HMM", "HPL", "HPL_QQ", "MAERSK", "MSC", "ONE", "OOCL"]
FR_VALS = [FR_CMA, FR_COSCO, FR_EMC, FR_HMM, FR_HPL, FR_HPLQQ, FR_MAERSK, FR_MSC, FR_ONE, FR_OOCL]
FR_LEG = [(518,529,537),(607,618,625),(721,733,740),(808,821,828),(901,913,920),(985,997,1004),(1105,1118,1124),(1228,1240,1246),(1318,1328,1335),(1405,1416,1423)]
for (a, b, c), n, col in zip(FR_LEG, FR_NAMES, FR_COL):
    leg(a, b, 2552, c, n, col, 15, 3, tcolor="#777777")
fx, fy, _ = new_axes(88, 1960, 2571.7, 2726,
    dict(range=[0, 59.43], tickvals=list(range(59)) + [59.43], ticktext=FR_TICKS, tickangle=90, tickfont=tf(10, "#888888"),
         showline=True, linecolor="#e3e3e3"),
    dict(range=[1500, 4500], tickvals=[1500, 2000, 2500, 3000, 3500, 4000, 4500], tickfont=tf(15, "#999999"), showgrid=True,
         gridcolor="#eeeeee", griddash="dash", showline=True, linecolor="#e3e3e3"))
for n, col, v in zip(FR_NAMES, FR_COL, FR_VALS):
    line(fx, fy, range(len(v)), v, n, col, 2.2, True)

# ---------- A: Shanghai container index ----------
txt(473, 2810, "上海集装箱指数", 28, "#222222", "center")
leg(256, 298, 2852, 300, "SCFIS欧线", RED, 17, 5)
leg(637, 678, 2852, 682, "SCFI欧线", "#000000", 17, 5)
at = list(pd.date_range("2022-01-07", "2026-01-07", freq=pd.DateOffset(months=2)))
ax, ay, _ = new_axes(137, 980, 2877.5, 3193,
    dict(type="date", range=["2022-01-07", "2026-02-25"], tickvals=at, ticktext=[f"{d.year%100}/{d.month}/7" for d in at], tickangle=-90,
         tickfont=tf(15), showgrid=True, gridcolor="#e2e2e2", showline=True, linecolor="#cfcfcf"),
    dict(range=[0, 12000], dtick=2000, tickformat=",.2f", tickfont=tf(17), showgrid=True, gridcolor="#e6e6e6",
         minor=dict(dtick=400, showgrid=True, gridcolor="#f3f3f3")))
line(ax, ay, months("2022-01-07", A_SCFIS), A_SCFIS, "SCFIS欧线", RED, 4)
line(ax, ay, months("2022-01-07", A_SCFI), A_SCFI, "SCFI欧线", "#000000", 4)

# ---------- B: SCFIS vs futures ----------
txt(1509, 2812, "SCFIS与期货价格走势", 26, "#222222", "center")
B_LEG = [(1004,1034,1037,"EC2604","#f7c4a0"),(1104,1136,1141,"EC2605","#ffc000"),(1207,1238,1243,"EC2606","#8aa86a"),(1311,1343,1346,"EC2607","#6a8cd6"),(1413,1445,1449,"EC2608","#7db0e0"),(1515,1548,1551,"EC2609","#70b85c"),(1618,1652,1656,"EC2610","#b8b8b8"),(1722,1755,1758,"EC2612","#2e75b6"),(1825,1857,1861,"SCFIS指数(右轴)","#f56a6a")]
for a, b, c, n, col in B_LEG:
    leg(a, b, 2863, c, n, col, 17, 2)
bt = list(pd.date_range("2025-04-18", "2026-02-18", freq=pd.DateOffset(months=1)))
bx, by, _ = new_axes(1088, 1965, 2896, 3252,
    dict(type="date", range=["2025-04-18", "2026-02-25"], tickvals=bt, ticktext=[f"{d.month}/18" for d in bt], tickfont=tf(18),
         showgrid=True, gridcolor="#e6e6e6", showline=True, linecolor="#222222", ticks="outside", ticklen=4, tickcolor="#222222"),
    dict(range=[600, 3500], tickvals=[600, 1100, 1600, 2100, 2600, 3100], tickformat=",", tickfont=tf(18), showline=True,
         linecolor="#222222", ticks="outside", ticklen=3, tickcolor="#222222"))
line(bx, by, weekly("2025-04-18", B_SCFIS), B_SCFIS, "SCFIS", "#f56a6a", 1.6)
line(bx, by, weekly("2025-04-29", B_2604), B_2604, "EC2604", "#f7c4a0", 1.8)
line(bx, by, weekly("2025-06-30", B_2606), B_2606, "EC2606", "#7f9f60", 1.4)
line(bx, by, weekly("2025-08-26", B_2608), B_2608, "EC2608", "#7db0e0", 3.2)
line(bx, by, weekly("2025-10-27", B_2610), B_2610, "EC2610", "#b8b8b8", 3.5)
line(bx, by, weekly("2026-02-08", B_2607), B_2607, "EC2607", "#6a8cd6", 3.2)
line(bx, by, weekly("2026-02-08", B_2605), B_2605, "EC2605", "#ffc000", 3.2)
line(bx, by, weekly("2026-02-08", B_2609), B_2609, "EC2609", "#70b85c", 3.2)

# ---------- C: EC spreads ----------
txt(528, 3315, "EC价差", 29, "#222222", "center")
C_LEG = [(49,87,91,"04-05","#ffd34d"),(185,224,228,"04-06","#7c9bd6"),(322,361,364,"04-07","#a0cf7f"),(458,496,500,"04-08","#2e6da4"),(595,633,637,"04-09","#c05a11"),(731,770,774,"04-10","#7f7f7f"),(867,905,910,"04-12","#b08b00")]
for a, b, c, n, col in C_LEG:
    leg(a, b, 3343, c, n, col, 21, 3.5)
ct = list(pd.date_range("2025-06-18", "2026-02-18", freq=pd.DateOffset(months=1)))
cx, cy, _ = new_axes(97, 972, 3382, 3747,
    dict(type="date", range=["2025-06-18", "2026-02-27"], tickvals=ct, ticktext=[f"{d.month}/18" for d in ct], tickfont=tf(20)),
    dict(range=[-700, 200], dtick=100, tickfont=tf(20), showline=True, linecolor="#333333", ticks="outside", ticklen=5,
         zeroline=True, zerolinecolor="#222222", zerolinewidth=1.5))
line(cx, cy, weekly("2025-07-01", C_0406), C_0406, "04-06", "#7c9bd6", 3)
line(cx, cy, weekly("2025-08-25", C_0408), C_0408, "04-08", "#2e6da4", 3)
line(cx, cy, weekly("2025-10-28", C_0410), C_0410, "04-10", "#7f7f7f", 3)
line(cx, cy, weekly("2025-12-30", C_0412), C_0412, "04-12", "#b08b00", 3)
line(cx, cy, C_SHORT_DATES, C_0409, "04-09", "#c05a11", 3)
line(cx, cy, C_SHORT_DATES, C_0405, "04-05", "#ffd34d", 3)
line(cx, cy, C_SHORT_DATES, C_0407, "04-07", "#a0cf7f", 3)

# ---------- D: EC basis ----------
txt(1499, 3314, "EC基差", 26, "#222222", "center")
D_COL = {"2604":"#6e6e6e","2605":"#7db4e2","2606":"#a07700","2607":"#f4a460","2608":"#6aaee8","2609":"#bdbdbd","2610":"#264478","2612":"#4a7a2c"}
for (a, b, c), k in zip([(1006,1038,1042),(1129,1161,1164),(1251,1283,1287),(1375,1407,1410),(1496,1528,1532),(1620,1652,1656),(1743,1778,1780),(1867,1900,1903)], D_COL):
    leg(a, b, 3361, c, k + "基差", D_COL[k], 17.5, 3)
dt = list(pd.date_range("2025-04-20", "2026-02-20", freq=pd.DateOffset(months=1)))
dx, dy, _ = new_axes(1083, 1946, 3390, 3741,
    dict(type="date", range=["2025-04-20", "2026-02-24"], tickvals=dt, ticktext=[f"{d.month}/20" for d in dt], tickfont=tf(18),
         showgrid=True, gridcolor="#e8e8e8"),
    dict(range=[-700, 1510], tickvals=[-700, -200, 300, 800, 1300], tickformat=",", tickfont=tf(18), showgrid=True, gridcolor="#e8e8e8",
         showline=True, linecolor="#444444", ticks="outside", ticklen=3, zeroline=True, zerolinecolor="#222222", zerolinewidth=1.5))
line(dx, dy, weekly("2025-04-30", D_2604), D_2604, "2604基差", D_COL["2604"], 3)
line(dx, dy, weekly("2025-07-01", D_2606), D_2606, "2606基差", D_COL["2606"], 3)
line(dx, dy, weekly("2025-08-25", D_2608), D_2608, "2608基差", D_COL["2608"], 3)
line(dx, dy, weekly("2025-10-26", D_2610), D_2610, "2610基差", D_COL["2610"], 3)
line(dx, dy, weekly("2025-12-27", D_2612), D_2612, "2612基差", D_COL["2612"], 3)
line(dx, dy, weekly("2026-02-06", D_2605), D_2605, "2605基差", D_COL["2605"], 3)
line(dx, dy, weekly("2026-02-06", D_2607), D_2607, "2607基差", D_COL["2607"], 3)
line(dx, dy, weekly("2026-02-06", D_2609), D_2609, "2609基差", D_COL["2609"], 3)

# ---------- E: FX vs SCFI ----------
YEARS_T = [f"{y}-01-01" for y in range(2020, 2027)]
txt(496, 3810, "人民币即期汇率与SCFI走势", 25, "#111111", "center", bold=False)
leg(41, 77, 3848, 82, "上海出口集装箱运价指数:综合指数", "#000000", 16.5, 3)
leg(384, 420, 3848, 428, "即期汇率:美元兑人民币(右轴)", RED, 16.5, 3)
leg(693, 729, 3848, 734, "即期汇率:欧元兑人民币(右轴)", "#2f5597", 16.5, 3)
ex, ey, ey2 = new_axes(78, 936, 3870, 4244,
    dict(type="date", range=["2020-01-01", "2026-01-08"], tickvals=YEARS_T, ticktext=YEARS_T, tickfont=tf(15), showline=True,
         linecolor="#222222", ticks="outside", ticklen=3),
    dict(range=[0, 5480], dtick=1000, tickformat="d", tickfont=tf(15), showline=True, linecolor="#222222"),
    dict(range=[6.2, 8.497], tickvals=[6.2, 6.7, 7.2, 7.7, 8.2], tickformat=".2f", tickfont=tf(15), showline=True, linecolor="#222222",
         ticks="outside", ticklen=3))
line(ex, ey, months("2020-01-01", SCFI_COMP), SCFI_COMP, "SCFI", "#000000", 1.8)
line(ex, ey2, months("2020-01-01", USD_CNY), USD_CNY, "USD", RED, 1.8)
line(ex, ey2, months("2020-01-01", EUR_CNY), EUR_CNY, "EUR", "#2f5597", 1.8)

# ---------- F: commodity vs SCFI ----------
txt(1483, 3821, "商品指数与SCFI走势", 26, "#111111", "center", bold=False)
leg(1132, 1170, 3853, 1174, "上海出口集装箱运价指数(SCFI):综合指数", RED, 16.5, 3)
leg(1628, 1666, 3853, 1671, "收盘价:Wind商品指数", "#000000", 16.5, 3)
gx, gy, gy2 = new_axes(1054, 1909, 3880, 4246,
    dict(type="date", range=["2020-01-01", "2026-01-01"], tickvals=YEARS_T, ticktext=YEARS_T, tickfont=tf(15), showline=True,
         linecolor="#222222", ticks="outside", ticklen=3),
    dict(range=[0, 5085], dtick=1000, tickformat="d", tickfont=tf(15), showline=True, linecolor="#222222"),
    dict(range=[900, 1996], tickvals=[900, 1100, 1300, 1500, 1700, 1900], tickformat=",", tickfont=tf(15), showline=True, linecolor="#222222",
         ticks="outside", ticklen=3))
line(gx, gy, months("2020-01-01", SCFI_COMP), SCFI_COMP, "SCFI", RED, 1.8)
line(gx, gy2, months("2020-01-01", WIND_CMD), WIND_CMD, "Wind", "#000000", 1.8)

# ---------- G: new deliveries ----------
txt(505, 4308, "新交付运力", 27, "#222222", "center", bold=False)
for a, b, c, s, col in [(92,130,134,">18,000数量","#f4b183"),(399,437,441,"15,200-17,999数量","#c9c9c9"),(706,744,748,"12,500-15,199数量","#ffd966")]:
    leg(a, b, 4338, c, s, col, 19, box=True, tcolor="#555555")
for a, b, c, s, col in [(92,130,134,">18,000","#000000"),(399,437,441,"15,200-17,999",RED),(706,744,748,"12,500-15,199","#ed7d31")]:
    leg(a, b, 4365, c, s, col, 19, 5, tcolor="#555555")
h1x, h1y, h1y2 = new_axes(121, 940, 4393, 4744,
    dict(range=[-0.5, 4.5], tickvals=list(range(5)), ticktext=G_YEARS, tickfont=tf(20, "#555555", True, CJK), showline=True, linecolor="#d0d0d0",
         minor=dict(tickvals=[-0.5, 0.5, 1.5, 2.5, 3.5, 4.5], showgrid=True, gridcolor="#e8e8e8")),
    dict(range=[0, 1200000], dtick=200000, tickformat=",", tickfont=tf(17, "#555555"), showgrid=True, gridcolor="#e2e2e2",
         minor=dict(dtick=40000, showgrid=True, gridcolor="#f4f4f4")),
    dict(range=[0, 70], dtick=10, tickfont=tf(17, "#555555")))
bars(h1x, h1y, range(5), G_Q18, ">18,000数量", "#f4b183", -0.33, 0.22)
bars(h1x, h1y, range(5), G_Q15, "15,200-17,999数量", "#c9c9c9", -0.11, 0.22)
bars(h1x, h1y, range(5), G_Q12, "12,500-15,199数量", "#ffd966", 0.11, 0.22)
line(h1x, h1y2, range(5), G_L18, ">18,000", "#000000", 5)
line(h1x, h1y2, range(5), G_L15, "15,200-17,999", RED, 5)
line(h1x, h1y2, range(5), G_L12, "12,500-15,199", "#ed7d31", 5)

# ---------- H: GCSP ----------
txt(1499, 4306, "GCSP到离港准班率", 24, "#222222", "center")
H_ITEMS = [("GCSP:综合准班率指数", H_ALL, RED), ("GCSP:收发货服务准班率指数", H_GATE, "#000000"), ("GCSP:到离港服务准班率指数", H_SVC, "#ffc000"),
           ("GCSP:到离港服务准班率:亚洲-欧洲", H_EU, "#9dc3e6"), ("GCSP:到离港服务准班率:亚洲-地中海", H_MED, "#7f7f7f"), ("GCSP:到离港服务准班率:亚洲-美西", H_USW, "#e2a9a9"),
           ("GCSP:港口准班率:新加坡", H_SG, "#a9d18e")]
for i, (n, v, col) in enumerate(H_ITEMS):
    a = [1019, 1334, 1651][i % 3]
    yy = [4331, 4349.5, 4368][i // 3]
    leg(a, a + 33, yy, a + 35, n, col, 13.5, 3)
h2x, h2y, _ = new_axes(1051, 1960, 4379, 4703,
    dict(range=[-0.3, 33.2], tickvals=list(range(34)), ticktext=H_TICKS, tickangle=-90, tickfont=tf(13), showgrid=True, gridcolor="#f0f0f0"),
    dict(range=[0, 90], dtick=10, tickfont=tf(17), showgrid=True, gridcolor="#e6e6e6"))
for n, v, col in H_ITEMS[3:] + H_ITEMS[:3]:
    line(h2x, h2y, range(34), v, n, col, 2.6, True)

# ---------- I: new three exports ----------
txt(529, 4804, "中国新三样出口", 24, "#111111", "center", bold=False)
for a, b, c, s, col in [(27,62,64,"中国:出口金额:汽车包括底盘:累计值:亿","#92d050"),(349,383,386,"中国:出口金额:电动载人汽车:累计值:亿","#ff1e1e"),(668,703,706,"中国:出口金额:集成电路:累计值:亿","#7cafe0")]:
    leg(a, b, 4839, c, s, col, 15.5, box=True)
for a, b, c, s, col in [(27,62,64,"中国:出口金额:汽车包括底盘:累计同比",RED),(349,383,386,"中国:出口金额:电动载人汽车:累计同比","#0070c0"),(668,703,706,"中国:出口金额:集成电路:累计同比","#000000")]:
    leg(a, b, 4872, c, s, col, 15.5, 4)
ix, iy, iy2 = new_axes(99, 939, 4895, 5220,
    dict(range=[-0.5, 30.5], tickvals=list(range(31)), ticktext=I_TICKS, tickangle=-90, tickfont=tf(14.5), showline=True, linecolor="#d8d8d8",
         showgrid=False, minor=dict(tickvals=[i - 0.5 for i in range(32)], showgrid=True, gridcolor="#ececec")),
    dict(range=[0, 1497], tickvals=[0, 200, 400, 600, 800, 1000, 1200, 1400], tickformat=",", tickfont=tf(16), showgrid=True, gridcolor="#e6e6e6"),
    dict(range=[-50, 200], dtick=50, tickfont=tf(17)))
bars(ix, iy, range(31), I_AUTO, "汽车包括底盘", "#92d050", -0.36, 0.24)
bars(ix, iy, range(31), I_EV, "电动载人汽车", "#ff1e1e", -0.12, 0.24)
bars(ix, iy, range(31), I_IC, "集成电路", "#7cafe0", 0.12, 0.24)
line(ix, iy2, range(-1, 31), I_AUTO_YOY, "汽车同比", RED, 3.5)
line(ix, iy2, range(-1, 31), I_EV_YOY, "电动同比", "#0070c0", 3.5)
line(ix, iy2, range(-1, 31), I_IC_YOY, "集成电路同比", "#000000", 3.5)

# ---------- J: port throughput ----------
txt(1504, 4799, "港口集装箱吞吐量", 26, "#111111", "center")
leg(1102, 1135, 4830, 1141, "中国:港口:集装箱吞吐量:当月值", "#f4b183", 16, box=True)
leg(1596, 1629, 4830, 1633, "中国:沿海:集装箱吞吐量:当月值", "#9dc3e6", 16, box=True)
leg(1102, 1135, 4847, 1141, "全国主要港口:集装箱吞吐量:当月同比", RED, 15, 3.5)
leg(1596, 1629, 4847, 1633, "集装箱吞吐量:沿海合计:当月同比", "#000000", 15, 3.5)
jx, jy, jy2 = new_axes(1077, 1933, 4866, 5211,
    dict(range=[-0.5, 46.5], tickvals=list(range(0, 47, 2)), ticktext=J_TICKS, tickangle=-90, tickfont=tf(12.5), showline=True, linecolor="#d8d8d8",
         minor=dict(tickvals=[i - 0.5 for i in range(48)], showgrid=True, gridcolor="#f0f0f0")),
    dict(range=[0, 3500], dtick=500, tickformat=",", tickfont=tf(18), showgrid=True, gridcolor="#e6e6e6"),
    dict(range=[0, 12], dtick=2, tickfont=tf(18)))
bars(jx, jy, range(47), J_CN, "中国港口", "#f4b183", -0.38, 0.36)
bars(jx, jy, range(47), J_CO, "中国沿海", "#9dc3e6", -0.02, 0.36)
line(jx, jy2, range(47), J_CN_YOY, "全国同比", RED, 3, gaps=True)
line(jx, jy2, range(47), J_CO_YOY, "沿海同比", "#000000", 3, gaps=True)

# ---------- K: industrial ----------
txt(515, 5299, "中国工业企业产销", 26, "#111111", "center")
leg(115, 151, 5326, 156, "中国:工业企业:产销率:当月值", "#5b9bd5", 16.5, box=True)
leg(595, 630, 5326, 636, "中国:工业企业:出口交货值:当月值", "#f4b183", 16.5, box=True)
leg(115, 151, 5349, 156, "中国:工业企业:产销率:当月同比", RED, 16.5, 4)
leg(595, 630, 5349, 636, "中国:工业企业:出口交货值:当月同比", "#000000", 16.5, 4)
kx, ky, ky2 = new_axes(100, 931, 5385, 5705,
    dict(range=[-0.5, 56.5], tickvals=list(range(0, 57, 2)), ticktext=K_TICKS, tickangle=-90, tickfont=tf(14.5), showline=True, linecolor="#d0d0d0"),
    dict(range=[0, 16000], dtick=2000, tickformat=",", tickfont=tf(17), showgrid=True, gridcolor="#e6e6e6"),
    dict(range=[-15, 20], dtick=5, tickfont=tf(16)))
bars(kx, ky, range(57), K_SALES_RATE, "产销率", "#5b9bd5", -0.4, 0.8)
bars(kx, ky, range(57), K_EXPORT, "出口交货值", "#f4b183", -0.3, 0.6)
line(kx, ky2, range(57), K_EXPORT_YOY, "出口同比", "#000000", 3.5, gaps=True)
line(kx, ky2, range(57), K_RATE_YOY, "产销同比", RED, 3.5, gaps=True)

# ---------- L: cargo yoy ----------
txt(1499, 5302, "主要港口货物吞吐量同比", 29, "#111111", "center")
leg(1051, 1090, 5330, 1096, "中国:沿海主要港口货物吞吐量:当月同比", "#000000", 18, 3)
leg(1550, 1590, 5330, 1595, "中国:外贸货物吞吐量:当月同比", RED, 18, 3)
leg(1051, 1090, 5353, 1096, "集装箱吞吐量:上海口岸:当月同比", "#f4b183", 18, 3)
lx, ly, _ = new_axes(1074, 1965, 5357, 5691,
    dict(range=[-0.53, 70.6], tickvals=list(range(0, 70, 3)), ticktext=L_TICKS, tickangle=-90, tickfont=tf(16)),
    dict(range=[-20, 55], tickvals=[-20, -10, 0, 10, 20, 30, 40, 50], tickformat=".2f", tickfont=tf(18), showgrid=True, gridcolor="#e8e8e8",
         zeroline=True, zerolinecolor="#000000", zerolinewidth=1.5))
line(lx, ly, range(71), L_SHANGHAI, "上海口岸", "#f4b183", 2.2)
line(lx, ly, range(71), L_COAST, "沿海主要港口", "#000000", 2.2)
line(lx, ly, range(71), L_FOREIGN, "外贸", RED, 2.2)

# ---------- M: capacity ----------
txt(537, 5813, "中国--欧洲周度集装箱运力投放", 33, "#111111", "center")
mt = list(pd.date_range("2023-01-01", "2026-01-01", freq=pd.DateOffset(months=2)))
mx, my, _ = new_axes(112, 974, 5855, 6200,
    dict(type="date", range=["2023-01-01", "2026-01-10"], tickvals=mt, ticktext=[f"{d.year%100}/{d.month}/1" for d in mt], tickangle=-45,
         tickfont=tf(15, "#222222", True), showline=True, linecolor="#44546a", linewidth=2, ticks="outside", ticklen=5),
    dict(range=[100000, 422000], tickvals=[100000, 150000, 200000, 250000, 300000, 350000, 400000], tickformat="d", tickfont=tf(20, "#111111", True), showgrid=True, gridcolor="#e0e0e0"))
fig.add_trace(go.Scatter(x=pd.date_range("2023-01-01", periods=len(M_CAP), freq="14D"), y=M_CAP, mode="lines", fill="tozeroy", xaxis=mx, yaxis=my,
                         showlegend=False, name="运力", fillcolor="#5b9bd5", line=dict(color="#5b9bd5", width=1)))

# ---------- N: fleet speed ----------
txt(1503, 5802, "全球船舶航速", 30, "#555555", "center")
N_COL = ["#a9d18e", "#8faadc", "#f4b183", "#000000", RED, "#2ec4c6", "#c55a3a"]
for (a, b, c), n, col in zip([(1065,1104,1107),(1199,1238,1242),(1331,1368,1372),(1462,1499,1503),(1595,1630,1634),(1726,1762,1766),(1857,1893,1896)], ["2020","2021","2022","2023","2024","2025","2026"], N_COL):
    leg(a, b, 5827, c, n, col, 17, 3.5, tcolor="#555555")
nnx, nny, _ = new_axes(1052, 1973, 5846, 6218,
    dict(range=[0.7, 53.85], tickvals=list(range(1, 54, 2)), ticktext=N_TICKS, tickangle=-90, tickfont=tf(11, "#555555", False, CJK), showgrid=True,
         gridcolor="#eeeeee", showline=True, linecolor="#d8d8d8"),
    dict(range=[9, 12.5], dtick=0.5, tickfont=tf(17, "#555555"), showgrid=True, gridcolor="#e6e6e6"))
line(nnx, nny, N20_W, N20_V, "2020", N_COL[0], 3, True)
line(nnx, nny, N21_W, N21_V, "2021", N_COL[1], 3, True)
line(nnx, nny, N22_W, N22_V, "2022", N_COL[2], 3, True)
line(nnx, nny, N25_W, N25_V, "2025", N_COL[5], 1.6)
line(nnx, nny, N23_W, N23_V, "2023", N_COL[3], 3, True)
line(nnx, nny, N24_W, N24_V, "2024", N_COL[4], 3, True)

fig.update_layout(width=W, height=H, margin=dict(l=0, r=0, t=0, b=0), paper_bgcolor="#ffffff", plot_bgcolor="rgba(0,0,0,0)",
                  shapes=shapes, annotations=notes, showlegend=False, barmode="group", font=dict(family=CJK), **axes)

# The browser screen is capped below the page height, so fit the whole page into the window that is really there.
FIT_PAGE = """
document.body.style.margin='0';
document.documentElement.style.overflow='hidden';
var g=document.querySelector('.plotly-graph-div');
var k=Math.min(1,window.innerHeight/%d);
g.style.transformOrigin='0 0';
g.style.transform='scale(1,'+k+')';
""" % H
fig.write_html("out.html", post_script=FIT_PAGE, config={"displayModeBar": False})
